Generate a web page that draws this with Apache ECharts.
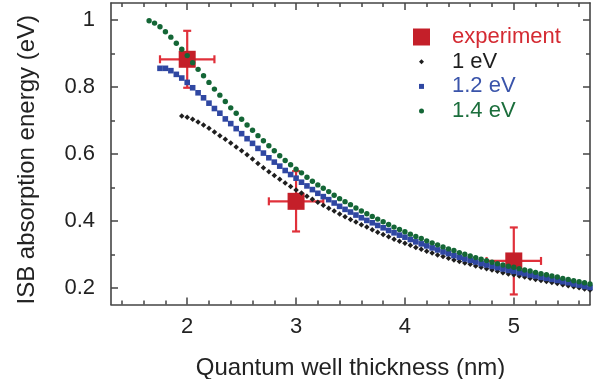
<!DOCTYPE html>
<html><head><meta charset="utf-8">
<script src="https://cdn.jsdelivr.net/npm/echarts@6/dist/echarts.min.js"></script>
<style>html,body{margin:0;padding:0;background:#fff}#c{width:593px;height:379px}</style>
</head><body><div id="c"></div>
<script>
// ---- data ----
const thickness14 = [1.65,1.70,1.75,1.80,1.85,1.90,1.95,2.00,2.05,2.10,2.15,2.20,2.25,2.30,2.35,2.40,2.45,2.50,2.55,2.60,2.65,2.70,2.75,2.80,2.85,2.90,2.95,3.00,3.05,3.10,3.15,3.20,3.25,3.30,3.35,3.40,3.45,3.50,3.55,3.60,3.65,3.70,3.75,3.80,3.85,3.90,3.95,4.00,4.05,4.10,4.15,4.20,4.25,4.30,4.35,4.40,4.45,4.50,4.55,4.60,4.65,4.70,4.75,4.80,4.85,4.90,4.95,5.00,5.05,5.10,5.15,5.20,5.25,5.30,5.35,5.40,5.45,5.50,5.55,5.60,5.65,5.70];
const energy14 = [0.997,0.990,0.979,0.964,0.948,0.930,0.912,0.893,0.872,0.852,0.833,0.813,0.793,0.775,0.756,0.737,0.721,0.703,0.686,0.670,0.654,0.639,0.624,0.609,0.594,0.580,0.567,0.554,0.543,0.530,0.518,0.507,0.497,0.487,0.476,0.466,0.457,0.448,0.438,0.429,0.421,0.413,0.405,0.397,0.389,0.381,0.374,0.367,0.360,0.353,0.347,0.340,0.334,0.328,0.322,0.316,0.311,0.305,0.300,0.295,0.290,0.285,0.281,0.276,0.272,0.268,0.264,0.261,0.257,0.253,0.250,0.246,0.242,0.239,0.235,0.232,0.228,0.225,0.221,0.218,0.215,0.211];

const thickness12 = [1.75,1.80,1.85,1.90,1.95,2.00,2.05,2.10,2.15,2.20,2.25,2.30,2.35,2.40,2.45,2.50,2.55,2.60,2.65,2.70,2.75,2.80,2.85,2.90,2.95,3.00,3.05,3.10,3.15,3.20,3.25,3.30,3.35,3.40,3.45,3.50,3.55,3.60,3.65,3.70,3.75,3.80,3.85,3.90,3.95,4.00,4.05,4.10,4.15,4.20,4.25,4.30,4.35,4.40,4.45,4.50,4.55,4.60,4.65,4.70,4.75,4.80,4.85,4.90,4.95,5.00,5.05,5.10,5.15,5.20,5.25,5.30,5.35,5.40,5.45,5.50,5.55,5.60,5.65,5.70];
const energy12 = [0.855,0.855,0.848,0.837,0.826,0.813,0.797,0.782,0.767,0.751,0.735,0.721,0.704,0.690,0.675,0.660,0.645,0.631,0.616,0.602,0.588,0.575,0.563,0.550,0.538,0.527,0.515,0.504,0.493,0.482,0.472,0.463,0.453,0.443,0.434,0.426,0.417,0.409,0.401,0.394,0.386,0.379,0.371,0.364,0.357,0.351,0.344,0.337,0.331,0.325,0.319,0.313,0.307,0.302,0.296,0.291,0.286,0.282,0.277,0.272,0.268,0.264,0.260,0.256,0.252,0.249,0.245,0.242,0.238,0.235,0.231,0.228,0.225,0.222,0.218,0.215,0.211,0.208,0.204,0.201];

const thickness10 = [1.95,2.00,2.05,2.10,2.15,2.20,2.25,2.30,2.35,2.40,2.45,2.50,2.55,2.60,2.65,2.70,2.75,2.80,2.85,2.90,2.95,3.00,3.05,3.10,3.15,3.20,3.25,3.30,3.35,3.40,3.45,3.50,3.55,3.60,3.65,3.70,3.75,3.80,3.85,3.90,3.95,4.00,4.05,4.10,4.15,4.20,4.25,4.30,4.35,4.40,4.45,4.50,4.55,4.60,4.65,4.70,4.75,4.80,4.85,4.90,4.95,5.00,5.05,5.10,5.15,5.20,5.25,5.30,5.35,5.40,5.45,5.50,5.55,5.60,5.65,5.70];
const energy10 = [0.713,0.709,0.703,0.695,0.686,0.676,0.665,0.654,0.643,0.632,0.620,0.609,0.597,0.584,0.571,0.558,0.546,0.535,0.524,0.513,0.502,0.492,0.483,0.473,0.464,0.455,0.446,0.437,0.429,0.420,0.412,0.404,0.396,0.388,0.381,0.373,0.366,0.359,0.352,0.345,0.339,0.333,0.327,0.320,0.315,0.309,0.304,0.298,0.293,0.288,0.283,0.278,0.274,0.270,0.265,0.261,0.257,0.253,0.249,0.245,0.241,0.239,0.235,0.232,0.228,0.225,0.222,0.219,0.216,0.213,0.209,0.206,0.203,0.200,0.196,0.193];

const expThickness = [2, 3, 5];
const expEnergy = [0.882, 0.458, 0.28];
const expThicknessErr = [0.25, 0.25, 0.25];
const expEnergyErr = [0.085, 0.09, 0.10];

const seriesNames = ['experiment', '1 eV', '1.2 eV', '1.4 eV'];

const xTicks = [2, 3, 4, 5];
const xMinorTicks = [1.4,1.6,1.8,2.2,2.4,2.6,2.8,3.2,3.4,3.6,3.8,4.2,4.4,4.6,4.8,5.2,5.4,5.6];
const yTicks = [0.2, 0.4, 0.6, 0.8, 1];
const yMinorTicks = [0.3, 0.5, 0.7, 0.9];

// ---- chart ----
const FONT = "'Liberation Sans', Arial, Helvetica, sans-serif";
const X_MIN = 1.3, X_MAX = 5.7, Y_MIN = 0.15, Y_MAX = 1.05;
const AXIS_COLOR = '#444';
const TEXT_COLOR = '#222';
const C_RED = '#c41f29', C_RED_BAR = '#e0303a', C_BLACK = '#1e1e1e', C_BLUE = '#2f47a2', C_GREEN = '#146636';

function pairs(xs, ys) { return xs.map((x, i) => [x, ys[i]]); }

function axis(kind, pos, ticks, len, major) {
  return {
    type: 'value', position: pos, min: kind === 'x' ? X_MIN : Y_MIN, max: kind === 'x' ? X_MAX : Y_MAX,
    splitLine: { show: false },
    axisLine: { show: major, onZero: false, lineStyle: { color: AXIS_COLOR, width: 1.6 } },
    axisTick: { show: true, inside: true, length: len, customValues: ticks, lineStyle: { color: AXIS_COLOR, width: 1.5 } },
    axisLabel: { show: false }
  };
}

const xAxes = [
  Object.assign(axis('x', 'bottom', xTicks, 7, true), {
    axisLabel: { show: true, customValues: xTicks, margin: 11, fontSize: 22, color: TEXT_COLOR, fontFamily: FONT },
    name: 'Quantum well thickness (nm)', nameLocation: 'middle', nameGap: 52,
    nameTextStyle: { fontSize: 24, color: TEXT_COLOR, fontFamily: FONT }
  }),
  axis('x', 'bottom', xMinorTicks, 4, false),
  axis('x', 'top', xTicks, 7, true),
  axis('x', 'top', xMinorTicks, 4, false)
];
const yAxes = [
  Object.assign(axis('y', 'left', yTicks, 7, true), {
    axisLabel: { show: true, customValues: yTicks, margin: 16, fontSize: 22, color: TEXT_COLOR, fontFamily: FONT },
    name: 'ISB absorption energy (eV)', nameLocation: 'middle', nameGap: 72,
    nameTextStyle: { fontSize: 24, color: TEXT_COLOR, fontFamily: FONT, padding: [0, 12, 0, 0] }
  }),
  axis('y', 'left', yMinorTicks, 4, false),
  axis('y', 'right', yTicks, 7, true),
  axis('y', 'right', yMinorTicks, 4, false)
];

const legendSpec = [
  { name: seriesNames[0], icon: 'rect', size: 17, color: '#d42a32', cy: 37 },
  { name: seriesNames[1], icon: 'diamond', size: 5, color: C_BLACK, cy: 61.7 },
  { name: seriesNames[2], icon: 'rect', size: 5, color: '#3a54aa', cy: 86.4 },
  { name: seriesNames[3], icon: 'circle', size: 5, color: '#1b6e3c', cy: 111 }
];
const ICON_CX = 421.5, TEXT_X = 452;
const legends = legendSpec.map(s => {
  const left = ICON_CX - s.size / 2;
  return {
    data: [{ name: s.name, icon: s.icon }],
    orient: 'vertical', left: left, top: s.cy - 11, padding: 0,
    itemWidth: s.size, itemHeight: s.size, selectedMode: false,
    itemStyle: { opacity: 1 },
    textStyle: { fontSize: 22, color: s.color, fontFamily: FONT, padding: [0, 0, 0, TEXT_X - (left + s.size + 5)] }
  };
});

const expData = expThickness.map((x, i) => [x, expEnergy[i], expThicknessErr[i], expEnergyErr[i]]);

const option = {
  animation: false,
  backgroundColor: '#fff',
  grid: { left: 111, right: 3, top: 3, bottom: 74.5, containLabel: false, outerBoundsMode: 'none' },
  xAxis: xAxes,
  yAxis: yAxes,
  legend: legends,
  series: [
    {
      type: 'custom', name: 'experiment-err', data: expData, encode: { x: 0, y: 1 }, z: 1,
      renderItem: function (params, api) {
        const x = api.value(0), y = api.value(1), ex = api.value(2), ey = api.value(3);
        const l = api.coord([x - ex, y]), r = api.coord([x + ex, y]);
        const t = api.coord([x, y + ey]), b = api.coord([x, y - ey]);
        const cap = 4;
        const st = { stroke: C_RED_BAR, lineWidth: 2.2 };
        const ln = (x1, y1, x2, y2) => ({ type: 'line', shape: { x1, y1, x2, y2 }, style: st });
        return { type: 'group', children: [
          ln(l[0], l[1], r[0], r[1]),
          ln(t[0], t[1], b[0], b[1]),
          ln(l[0], l[1] - cap, l[0], l[1] + cap),
          ln(r[0], r[1] - cap, r[0], r[1] + cap),
          ln(t[0] - cap, t[1], t[0] + cap, t[1]),
          ln(b[0] - cap, b[1], b[0] + cap, b[1])
        ] };
      }
    },
    {
      type: 'scatter', name: seriesNames[0], data: pairs(expThickness, expEnergy), z: 2,
      symbol: 'rect', symbolSize: 17, itemStyle: { color: C_RED, opacity: 1 }
    },
    {
      type: 'scatter', name: seriesNames[1], data: pairs(thickness10, energy10), z: 3,
      symbol: 'diamond', symbolSize: 5.5, itemStyle: { color: C_BLACK, opacity: 1 }
    },
    {
      type: 'scatter', name: seriesNames[2], data: pairs(thickness12, energy12), z: 4,
      symbol: 'rect', symbolSize: 5.6, itemStyle: { color: C_BLUE, opacity: 1 }
    },
    {
      type: 'scatter', name: seriesNames[3], data: pairs(thickness14, energy14), z: 5,
      symbol: 'circle', symbolSize: 5.4, itemStyle: { color: C_GREEN, opacity: 1 }
    }
  ]
};

const chart = echarts.init(document.getElementById('c'), null, { renderer: 'canvas' });
chart.setOption(option);
</script>
</body></html>
